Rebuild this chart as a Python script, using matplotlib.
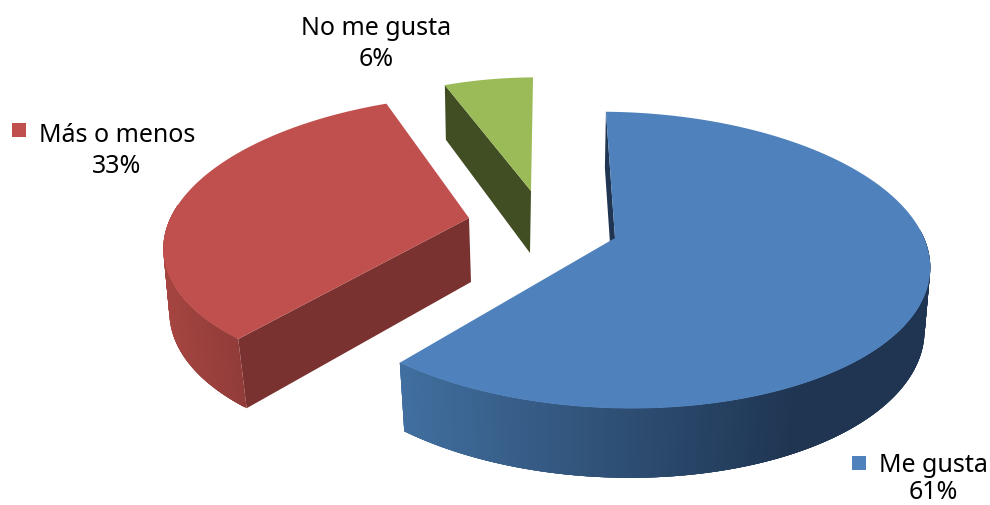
import numpy as np
import matplotlib
matplotlib.use("Agg")
import matplotlib.pyplot as plt
from matplotlib.colors import to_rgb
from matplotlib.patches import Polygon, Rectangle

# Datos de la encuesta
categories = ["Me gusta", "Más o menos", "No me gusta"]
values = [61, 33, 6]

START_ANGLE = -1.0  # grados, sentido horario desde arriba

# Geometria de cada porcion (cx, cy, rx, ry, sesgo x, sesgo y, perspectiva, m)
top_faces = {
    "Me gusta": (615, 238, 311, 145, -5, 5, 0.149, 0.0),
    "Más o menos": (469, 218, 303, 140, 25, 0, 0.135, -0.015),
    "No me gusta": (531, 191, 269, 129, 7, 0, 0.135, 0.0),
}
bottom_faces = {
    "Me gusta": (614, 302, 307, 152, -5, 5, 0.135, 0.0),
    "Más o menos": (471, 282, 300, 146, 20, 0, 0.135, -0.015),
    "No me gusta": (530, 253, 263, 138, 7, 0, 0.135, 0.0),
}
colors = {
    "Me gusta": "#4F81BD",
    "Más o menos": "#C0504D",
    "No me gusta": "#9BBB59",
}
face_colors = {
    "Me gusta": "#1F3552",
    "Más o menos": "#7A3230",
    "No me gusta": "#414D22",
}
# Degradado de la pared exterior: x inicial, x final, color inicial, color final
wall_gradients = {
    "Me gusta": (401, 800, "#416F9F", "#1F3552"),
    "Más o menos": (162, 250, "#A64541", "#8E3B38"),
    "No me gusta": (445, 533, "#414D22", "#414D22"),
}
label_pos = {
    "Me gusta": (933, 479),
    "Más o menos": (117, 151),
    "No me gusta": (376, 44),
}
label_spacing = {"Me gusta": 1.12, "Más o menos": 1.28, "No me gusta": 1.28}
key_pos = {"Me gusta": (852, 456), "Más o menos": (12, 123)}


def project(theta, face):
    cx, cy, rx, ry, sx, sy, k, m = face
    u, v = np.sin(theta), np.cos(theta)
    w = 1 + k * v + m * u
    return np.column_stack([cx + (rx * u + sx * v) / w, cy + (sy * u - ry * v) / w])


fig = plt.figure(figsize=(9.9, 5.05), dpi=100)
ax = fig.add_axes([0, 0, 1, 1])
ax.set_xlim(0, 990)
ax.set_ylim(505, 0)
ax.axis("off")

shares = np.array(values) / sum(values) * 360
ends = START_ANGLE + np.cumsum(shares)
starts = ends - shares

for name, a0, a1 in zip(categories, starts, ends):
    t = np.radians(np.linspace(a0, a1, 360))
    top = project(t, top_faces[name])
    bottom = project(t, bottom_faces[name])
    apex_top = np.array(top_faces[name][:2], dtype=float)
    apex_bottom = np.array(bottom_faces[name][:2], dtype=float)

    # Cara radial del inicio de la porcion, la unica que queda a la vista
    ax.add_patch(Polygon([top[0], apex_top, apex_bottom, bottom[0]],
                         facecolor=face_colors[name], edgecolor="none", zorder=1))

    # Pared exterior: tiras solapadas para que no se vean juntas, solo la parte delantera
    x0, x1, c0, c1 = wall_gradients[name]
    front = np.where(np.cos(t) < 0.1)[0]
    for j in front[:-1]:
        k = min(j + 4, front[-1])
        f = np.clip((top[j, 0] - x0) / (x1 - x0), 0, 1)
        color = (1 - f) * np.array(to_rgb(c0)) + f * np.array(to_rgb(c1))
        ax.add_patch(Polygon([top[j], top[k], bottom[k], bottom[j]], facecolor=color,
                             edgecolor="none", zorder=2))

    # Cara superior
    ax.add_patch(Polygon(np.vstack([apex_top, top]), facecolor=colors[name],
                         edgecolor="none", zorder=3))

# Etiquetas y claves de color
for name, v in zip(categories, values):
    x, y = label_pos[name]
    ax.text(x, y, f"{name}\n{v}%", ha="center", va="center", fontsize=18,
            family="Noto Sans", color="black", linespacing=label_spacing[name], zorder=4)
    if name in key_pos:
        ax.add_patch(Rectangle(key_pos[name], 14, 14, facecolor=colors[name],
                               edgecolor="none", zorder=4))

fig.savefig("out.png", dpi=100)
